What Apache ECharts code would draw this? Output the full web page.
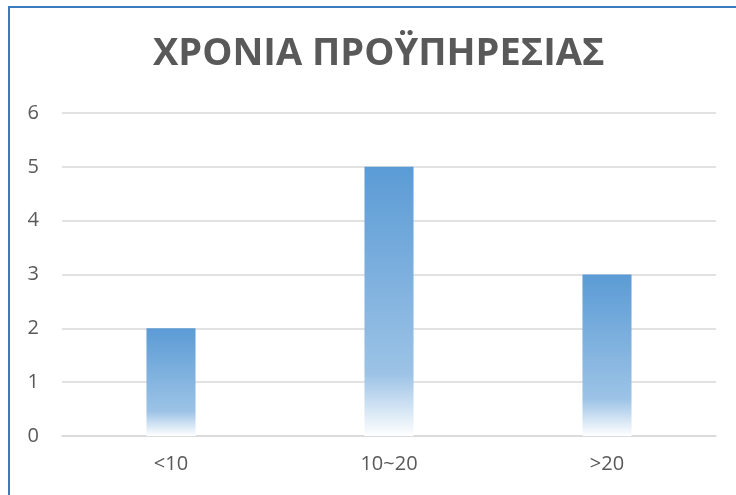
<!DOCTYPE html>
<html>
<head>
<meta charset="utf-8">
<script src="https://cdn.jsdelivr.net/npm/echarts@6/dist/echarts.min.js"></script>
<style>
html,body{margin:0;padding:0;background:#fff;overflow:hidden;}
#frame{position:absolute;left:8px;top:6px;width:1000px;height:1000px;border-left:2px solid #3a7abf;border-top:2px solid #3a7abf;box-sizing:border-box;}
#chart{position:absolute;left:0;top:0;width:736px;height:495px;}
</style>
</head>
<body>
<div id="frame"></div>
<div id="chart"></div>
<script>
const titleText = 'ΧΡΟΝΙΑ ΠΡΟΫΠΗΡΕΣΙΑΣ';
const categories = ['<10', '10~20', '>20'];
const values = [2, 5, 3];
const yTicks = { min: 0, max: 6, interval: 1 };

const chart = echarts.init(document.getElementById('chart'), null, { renderer: 'canvas' });
chart.setOption({
  backgroundColor: 'transparent',
  animation: false,
  title: {
    text: titleText,
    left: 153,
    top: 35,
    padding: 0,
    textStyle: { fontFamily: 'Open Sans', fontWeight: 'bold', fontSize: 38, color: '#595959' }
  },
  grid: { left: 62, right: 20, top: 113, bottom: 59 },
  xAxis: {
    type: 'category',
    data: categories,
    axisLine: { lineStyle: { color: '#d9d9d9', width: 1.5 } },
    axisTick: { show: false },
    axisLabel: { fontFamily: 'Open Sans', fontSize: 20, color: '#595959', margin: 18 }
  },
  yAxis: {
    type: 'value',
    min: yTicks.min, max: yTicks.max, interval: yTicks.interval,
    axisLine: { show: false },
    axisTick: { show: false },
    axisLabel: { fontFamily: 'Open Sans', fontSize: 20, color: '#595959', margin: 23 },
    splitLine: { lineStyle: { color: '#d9d9d9', width: 1.5 } }
  },
  series: [{
    type: 'bar',
    data: values,
    barWidth: '22.5%',
    itemStyle: {
      color: new echarts.graphic.LinearGradient(0, 0, 0, 1, [
        { offset: 0, color: '#5b9bd5' },
        { offset: 0.77, color: '#9cc3e6' },
        { offset: 1, color: '#ffffff' }
      ])
    }
  }]
});
</script>
</body>
</html>
